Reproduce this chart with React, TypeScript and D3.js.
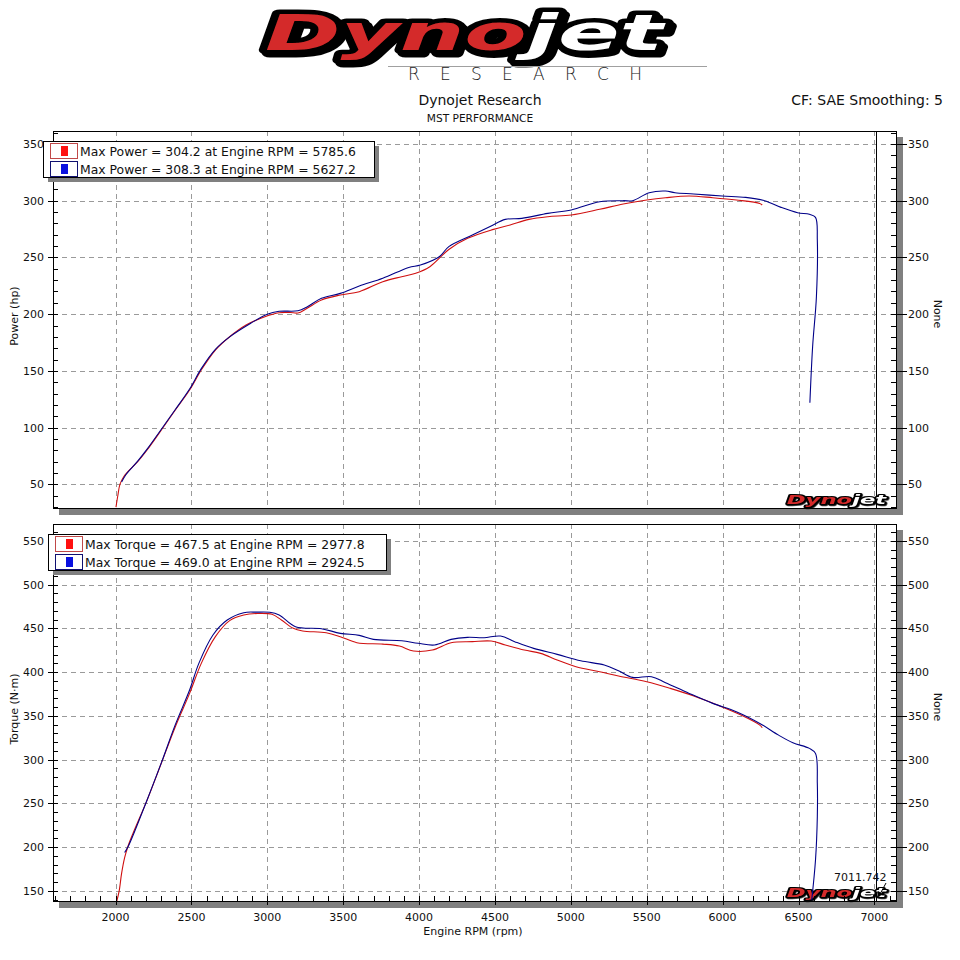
import React from "react";
import * as d3 from "d3";

// ---------- data ----------
const rpmMajorTicks = [2000, 2500, 3000, 3500, 4000, 4500, 5000, 5500, 6000, 6500, 7000];
const powerMajorTicks = [50, 100, 150, 200, 250, 300, 350];
const torqueMajorTicks = [150, 200, 250, 300, 350, 400, 450, 500, 550];

const powerRun1Rpm = [2003, 2015, 2029, 2055, 2080, 2146, 2208, 2317, 2394, 2488, 2565, 2658, 2752, 2860, 2984, 3078, 3150, 3202, 3260, 3357, 3481, 3606, 3761, 3885, 3978, 4071, 4196, 4320, 4491, 4600, 4724, 4848, 5003, 5190, 5345, 5500, 5624, 5779, 5935, 6090, 6245, 6261];
const powerRun1Hp = [30, 40, 50, 57, 61, 70, 80.3, 100.8, 115.5, 133.1, 150.8, 168.4, 180.1, 190.4, 197.8, 201.3, 201.5, 201.0, 205, 212.5, 216.9, 219.8, 228.6, 233, 236, 241.8, 257, 266.8, 274.7, 278.6, 283.5, 285.9, 287.4, 292.4, 297.1, 300.6, 302.6, 304.1, 302.6, 300.6, 297.6, 296.2];

const powerRun2Rpm = [2040, 2068, 2146, 2208, 2317, 2394, 2488, 2565, 2658, 2752, 2891, 3000, 3078, 3202, 3264, 3357, 3481, 3606, 3761, 3932, 4009, 4133, 4196, 4351, 4475, 4568, 4677, 4848, 5003, 5190, 5345, 5407, 5516, 5624, 5686, 5810, 5997, 6152, 6276, 6385, 6494, 6572, 6612, 6624, 6618, 6593, 6575];
const powerRun2Hp = [52, 58.5, 70.5, 81, 101.4, 116, 134, 152, 169, 180, 192, 200, 202.5, 203, 206.6, 214, 218.3, 224.8, 231.6, 241.2, 243.3, 250.6, 259.5, 269.7, 277.7, 283.5, 284.4, 288.8, 291.8, 299.1, 300, 300, 307, 308.5, 307, 305.9, 304.1, 302.9, 300, 294.1, 289.4, 288, 285.3, 265.3, 215.4, 171.3, 122];

const torqueRun1Rpm = [2008, 2024, 2040, 2060, 2080, 2115, 2208, 2301, 2394, 2488, 2565, 2658, 2752, 2845, 2938, 3031, 3093, 3171, 3233, 3388, 3481, 3590, 3761, 3870, 3963, 4087, 4211, 4351, 4475, 4568, 4693, 4801, 4910, 5034, 5190, 5314, 5500, 5655, 5810, 5966, 6121, 6245, 6261];
const torqueRun1Nm = [138, 150, 170, 188, 200, 215.7, 253.8, 295.6, 337.6, 375.7, 410, 440.5, 458.8, 465.2, 467, 466, 459.5, 450, 447, 445, 440.5, 433.6, 432, 429.8, 424.1, 425.2, 433.6, 434.8, 435.5, 431, 425.2, 421.4, 413.8, 406.2, 400.5, 395.5, 389, 381.4, 372.7, 362.4, 351, 339.5, 336.5];

const torqueRun2Rpm = [2060, 2084, 2208, 2301, 2394, 2488, 2549, 2642, 2736, 2845, 2930, 3016, 3078, 3186, 3357, 3481, 3606, 3699, 3886, 3994, 4102, 4211, 4320, 4428, 4537, 4630, 4755, 4910, 5065, 5220, 5314, 5407, 5531, 5624, 5780, 5935, 6090, 6245, 6369, 6463, 6572, 6612, 6624, 6624, 6612, 6587];
const torqueRun2Nm = [194, 201, 254, 296, 340, 379.5, 410, 442.4, 459.5, 467.9, 468.5, 468.3, 465.2, 451.9, 449.6, 444.3, 442, 437.4, 435.9, 432.9, 431, 437.4, 439.7, 439.3, 441.2, 434.8, 427.1, 420.3, 413, 408.1, 401.6, 394, 394.8, 387.9, 375.7, 364.3, 354.8, 341.4, 328, 319.3, 312.9, 307.1, 272.9, 234.8, 185.3, 139.5];

const powerLegend = [
  "Max Power = 304.2 at Engine RPM = 5785.6",
  "Max Power = 308.3 at Engine RPM = 5627.2",
];
const torqueLegend = [
  "Max Torque = 467.5 at Engine RPM = 2977.8",
  "Max Torque = 469.0 at Engine RPM = 2924.5",
];
const cursorRpm = 7011.742;
const researchWord = "R E S E A R C H";

// ---------- styles ----------
const FONT = "DejaVu Sans";
const RED = "#d01010";
const BLUE = "#000088";
const GRID = "#9a9a9a";
const SHADOW = "#808080";

const PX0 = 53, PX1 = 897;
const TOP = { y0: 131, y1: 509 };
const BOT = { y0: 524, y1: 902 };

const x = d3.scaleLinear().domain([1588, 7149]).range([PX0, PX1]);
const yP = d3.scaleLinear().domain([28.3, 361.4]).range([TOP.y1, TOP.y0]);
const yT = d3.scaleLinear().domain([137.4, 569.2]).range([BOT.y1, BOT.y0]);

function zip(a: number[], b: number[]): [number, number][] {
  return a.map((v, i) => [v, b[i]]);
}

function Logo({ tx, ty, s, id, research = true }: { tx: number; ty: number; s: number; id: string; research?: boolean }) {
  return (
    <g transform={`translate(${tx},${ty}) scale(${s})`}>
      <filter id={id} x="-10%" y="-30%" width="130%" height="170%">
        <feDropShadow dx={3} dy={3} stdDeviation={0.5} floodColor="#000" floodOpacity={1} />
      </filter>
      <text
        x={3}
        y={40}
        fontFamily={FONT}
        fontWeight="bold"
        fontStyle="italic"
        fontSize={50}
        textLength={398}
        lengthAdjust="spacingAndGlyphs"
        stroke="#000"
        strokeWidth={9}
        strokeLinejoin="round"
        paintOrder="stroke"
        filter={`url(#${id})`}
      >
        <tspan fill="#d42a2a">Dyno</tspan>
        <tspan fill="#ffffff">jet</tspan>
      </text>
      {research && (
        <g>
          <line x1={126} x2={445} y1={56.5} y2={56.5} stroke="#a0a0a0" strokeWidth={1} />
          <text x={146} y={70} fontFamily={FONT} fontWeight={300} fontSize={17} fill="#222" textLength={234} lengthAdjust="spacing" style={{ whiteSpace: "pre" }}>{researchWord}</text>
        </g>
      )}
    </g>
  );
}

function Panel({
  y0, y1, yScale, majors, minorStart, minorEnd, showX, run1, run2, legend, legendBox, label, clipId,
}: any) {
  const line = d3
    .line<[number, number]>()
    .x((d) => x(d[0]))
    .y((d) => yScale(d[1]))
    .curve(d3.curveCatmullRom.alpha(0.5));
  const minors = d3.range(minorStart, minorEnd + 1, 10);
  const xMinors = d3.range(1600, 7101, 100);
  const lb = legendBox;
  const midY = (y0 + y1) / 2;
  return (
    <g>
      <rect x={PX0 + 6} y={y0 + 6} width={PX1 - PX0} height={y1 - y0} fill={SHADOW} />
      <rect x={PX0} y={y0} width={PX1 - PX0} height={y1 - y0} fill="#fff" />
      <clipPath id={clipId}>
        <rect x={PX0} y={y0} width={PX1 - PX0} height={y1 - y0} />
      </clipPath>
      <g stroke={GRID} strokeWidth={1} strokeDasharray="5,4">
        {rpmMajorTicks.map((t) => (
          <line key={"gx" + t} x1={Math.round(x(t)) + 0.5} x2={Math.round(x(t)) + 0.5} y1={y0} y2={y1} />
        ))}
        {majors.map((t: number) => (
          <line key={"gy" + t} x1={PX0} x2={PX1} y1={Math.round(yScale(t)) + 0.5} y2={Math.round(yScale(t)) + 0.5} />
        ))}
      </g>
      <line x1={Math.round(x(cursorRpm)) + 0.5} x2={Math.round(x(cursorRpm)) + 0.5} y1={y0} y2={y1} stroke="#000" strokeWidth={1} />
      <Logo tx={786} ty={y1 - 15.5} s={0.25} id={clipId + "logo"} research={false} />
      <g clipPath={`url(#${clipId})`} fill="none" strokeWidth={1.1}>
        <path d={line(run1) || ""} stroke={RED} />
        <path d={line(run2) || ""} stroke={BLUE} />
      </g>
      <rect x={PX0 + 0.5} y={y0 + 0.5} width={PX1 - PX0 - 1} height={y1 - y0 - 1} fill="none" stroke="#000" strokeWidth={1} />
      <g stroke="#000" strokeWidth={1}>
        {minors.map((t: number) => {
          const yy = Math.round(yScale(t)) + 0.5;
          if (yy < y0 || yy > y1) return null;
          const major = t % 50 === 0;
          return (
            <g key={"yt" + t}>
              <line x1={major ? PX0 - 5 : PX0} x2={PX0 + 5} y1={yy} y2={yy} />
              <line x1={PX1 - 6} x2={major ? PX1 + 10 : PX1} y1={yy} y2={yy} />
            </g>
          );
        })}
      </g>
      <g fontFamily={FONT} fontSize={11} fill="#111">
        {majors.map((t: number) => (
          <g key={"yl" + t}>
            <text x={PX0 - 9} y={yScale(t) + 4} textAnchor="end">{t}</text>
            <text x={PX1 + 11} y={yScale(t) + 4} textAnchor="start">{t}</text>
          </g>
        ))}
      </g>
      {showX && (
        <g>
          <g stroke="#000" strokeWidth={1}>
            {xMinors.map((t: number) => {
              const xx = Math.round(x(t)) + 0.5;
              const major = t % 500 === 0;
              return <line key={"xt" + t} x1={xx} x2={xx} y1={y1 - 6} y2={major ? y1 + 3 : y1} />;
            })}
          </g>
          <g fontFamily={FONT} fontSize={11} fill="#111" textAnchor="middle">
            {rpmMajorTicks.map((t) => (
              <text key={"xl" + t} x={x(t)} y={y1 + 19}>{t}</text>
            ))}
          </g>
          <text x={473} y={935} fontFamily={FONT} fontSize={11} textAnchor="middle" fill="#111">Engine RPM (rpm)</text>
        </g>
      )}
      <text transform={`translate(18,${midY - 4}) rotate(-90)`} fontFamily={FONT} fontSize={11} textAnchor="middle" fill="#111">{label}</text>
      <text transform={`translate(934,${midY - 6}) rotate(90)`} fontFamily={FONT} fontSize={11} textAnchor="middle" fill="#111">None</text>
      <rect x={lb.x + 5} y={lb.y + 5} width={lb.w} height={lb.h} fill={SHADOW} />
      <rect x={lb.x + 0.5} y={lb.y + 0.5} width={lb.w} height={lb.h} fill="#fff" stroke="#000" strokeWidth={1} />
      {legend.map((txt: string, i: number) => {
        const ry = lb.y + 2 + i * 18;
        const c = i === 0 ? "#ff1010" : "#0a10e0";
        const oc = i === 0 ? "#c04848" : "#101070";
        return (
          <g key={"lg" + i}>
            <rect x={lb.x + 7.5} y={ry + 0.5} width={27} height={15} fill="#fff" stroke={oc} strokeWidth={1} />
            <rect x={lb.x + 18} y={ry + 3} width={7} height={10} fill={c} />
            <text x={lb.x + 37} y={ry + 12.5} fontFamily={FONT} fontSize={12.4} fill="#111">{txt}</text>
          </g>
        );
      })}
    </g>
  );
}

export default function App() {
  return (
    <svg width={960} height={960} viewBox="0 0 960 960" style={{ display: "block", position: "absolute", left: 0, top: 0, background: "#fff" }}>
      <rect width={960} height={960} fill="#fff" />
      <Logo tx={262} ty={10} s={1} id="mainLogo" />
      <text x={480} y={105} fontFamily={FONT} fontSize={14} textAnchor="middle" fill="#111">Dynojet Research</text>
      <text x={480} y={122} fontFamily={FONT} fontSize={10.6} textAnchor="middle" fill="#111">MST PERFORMANCE</text>
      <text x={943} y={105} fontFamily={FONT} fontSize={14} textAnchor="end" fill="#111">CF: SAE Smoothing: 5</text>
      <Panel
        y0={TOP.y0} y1={TOP.y1} yScale={yP} majors={powerMajorTicks} minorStart={30} minorEnd={360}
        showX={false} run1={zip(powerRun1Rpm, powerRun1Hp)} run2={zip(powerRun2Rpm, powerRun2Hp)}
        legend={powerLegend} legendBox={{ x: 43, y: 141, w: 331, h: 36 }} label="Power (hp)" clipId="clipTop"
      />
      <Panel
        y0={BOT.y0} y1={BOT.y1} yScale={yT} majors={torqueMajorTicks} minorStart={140} minorEnd={560}
        showX={true} run1={zip(torqueRun1Rpm, torqueRun1Nm)} run2={zip(torqueRun2Rpm, torqueRun2Nm)}
        legend={torqueLegend} legendBox={{ x: 48, y: 534, w: 338, h: 36 }} label="Torque (N·m)" clipId="clipBot"
      />
      <text x={834} y={881} fontFamily={FONT} fontSize={11} fill="#111">{cursorRpm.toFixed(3)}</text>
      <path d="M886,883 L879,896" stroke="#000" strokeWidth={1} fill="none" />
      <path d="M877,898 L878,891 L883,894 Z" fill="#000" />
    </svg>
  );
}
